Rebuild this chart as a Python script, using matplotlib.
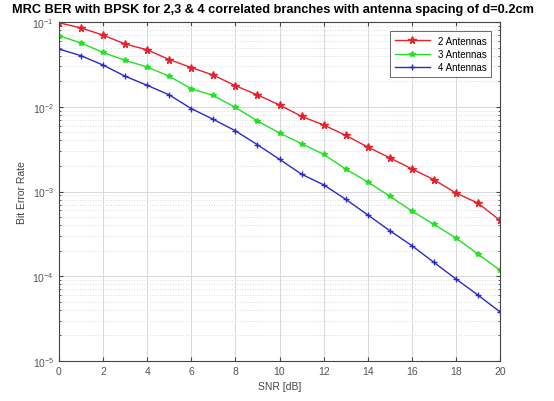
import matplotlib
matplotlib.use('Agg')
import matplotlib.pyplot as plt
from matplotlib.ticker import LogLocator

# SNR en dB y BER
snr_db = list(range(0, 21))
ber_2_antenas = [0.098, 0.085, 0.070, 0.055, 0.047, 0.036, 0.029, 0.0236, 0.0177, 0.0138,
                 0.0105, 0.0077, 0.0061, 0.0046, 0.00335, 0.0025, 0.00185, 0.00138, 0.00096,
                 0.00073, 0.000456]
ber_3_antenas = [0.069, 0.0565, 0.0437, 0.0353, 0.0294, 0.0229, 0.0163, 0.0136, 0.0098, 0.0068,
                 0.0049, 0.00366, 0.00275, 0.00184, 0.0013, 0.00088, 0.00059, 0.00041, 0.000283,
                 0.000183, 0.000118]
ber_4_antenas = [0.048, 0.040, 0.031, 0.0229, 0.0179, 0.0138, 0.0095, 0.0071, 0.0052, 0.00356,
                 0.0024, 0.0016, 0.0012, 0.00081, 0.00053, 0.000345, 0.00023, 0.000146, 0.000093,
                 0.00006, 0.000038]
etiquetas = ['2 Antennas', '3 Antennas', '4 Antennas']
x_ticks = list(range(0, 21, 2))

plt.rcParams['font.family'] = ['Liberation Sans', 'DejaVu Sans']

fig = plt.figure(figsize=(5.54, 4.02), dpi=100)
ax = fig.add_axes([59/554, 1 - 362/402, 441/554, 339/402])

ax.semilogy(snr_db, ber_2_antenas, color='#e8202a', marker='*', markersize=5.5, linewidth=1, label=etiquetas[0])
ax.semilogy(snr_db, ber_3_antenas, color='#22e022', marker='*', markersize=4, linewidth=1, label=etiquetas[1])
ax.semilogy(snr_db, ber_4_antenas, color='#2a2acc', marker='+', markersize=5, linewidth=1, label=etiquetas[2])

ax.set_xlim(0, 20)
ax.set_ylim(1e-5, 1e-1)
ax.set_xticks(x_ticks)
ax.yaxis.set_major_locator(LogLocator(base=10, numticks=10))
ax.yaxis.set_minor_locator(LogLocator(base=10, subs=range(2, 10), numticks=10))
ax.tick_params(which='both', direction='in', top=True, right=True, labelsize=7.5, colors='#444444',
               labelcolor='#555555')
ax.tick_params(which='major', length=3)
ax.tick_params(which='minor', length=1.5)
ax.tick_params(axis='x', which='minor', bottom=False, top=False)

ax.grid(True, which='major', color='#d8d8d8', linestyle='-', linewidth=0.7)
ax.grid(True, which='minor', axis='y', color='#dddddd', linestyle=':', linewidth=0.7)
for sp in ax.spines.values():
    sp.set_color('#444444')
    sp.set_linewidth(0.8)

ax.set_title('MRC BER with BPSK for 2,3 & 4 correlated branches with antenna spacing of d=0.2cm',
             fontsize=9.2, fontweight='bold', pad=7, x=0.485)
ax.set_xlabel('SNR [dB]', fontsize=7.5, color='#444444')
ax.set_ylabel('Bit Error Rate', fontsize=7.5, color='#444444')

leg = ax.legend(loc='upper right', fontsize=7, fancybox=False, edgecolor='#444444',
                handlelength=3.6, borderaxespad=0.9, labelspacing=0.35, borderpad=0.5)
leg.get_frame().set_linewidth(0.7)

plt.savefig('out.png', dpi=100)
plt.close()
